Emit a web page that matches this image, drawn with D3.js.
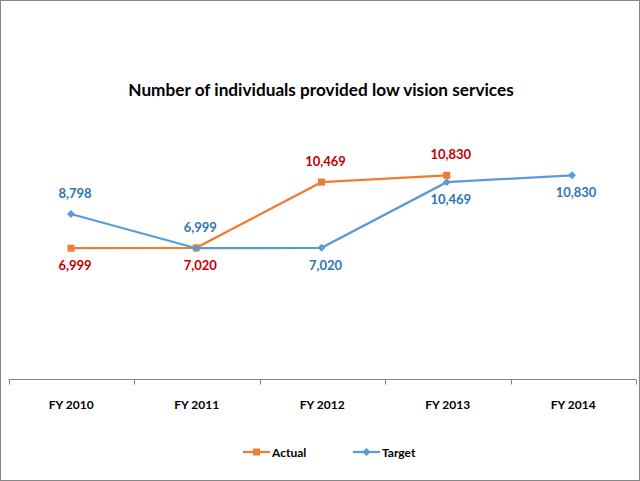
<!DOCTYPE html>
<html><head><meta charset="utf-8">
<script src="https://cdn.jsdelivr.net/npm/d3@7"></script>
<style>html,body{margin:0;padding:0;background:#fff;}svg{display:block;}</style>
</head><body>
<script>
const categories = ["FY 2010","FY 2011","FY 2012","FY 2013","FY 2014"];
const actual = [6999, 7020, 10469, 10830, null];
const target = [8798, 6999, 7020, 10469, 10830];
const actualLabelPos = ["below","below","above","above",null];
const targetLabelPos = ["above","above","below","below","below"];
const title = "Number of individuals provided low vision services";
const seriesNames = ["Actual","Target"];

const W = 640, H = 481;
const font = "Lato, 'Open Sans', sans-serif";
const svg = d3.select("body").append("svg").attr("width", W).attr("height", H);
svg.append("rect").attr("x",0.5).attr("y",0.5).attr("width",W-1).attr("height",H-1)
  .attr("fill","#fff").attr("stroke","#868686").attr("stroke-width",1);

svg.append("text").attr("x",321).attr("y",96).attr("text-anchor","middle")
  .attr("font-family",font).attr("font-weight","bold").attr("font-size",17.2).attr("fill","#000").text(title);

const x = d3.scalePoint().domain(categories).range([71, 572]);
const xb = d3.scaleBand().domain(categories).range([8.5, 636]);
const y = d3.scaleLinear().domain([0, 12000]).range([381.5, 153]);

// axis
const ax = svg.append("g").attr("transform","translate(0,379.5)");
ax.append("line").attr("x1",8.5).attr("x2",636).attr("stroke","#868686").attr("stroke-width",1);
const bounds = categories.map(c => xb(c)).concat([xb.range()[1]]);
ax.selectAll("line.tick").data(bounds).enter().append("line").attr("class","tick")
  .attr("x1",d=>Math.round(d)+0.5).attr("x2",d=>Math.round(d)+0.5).attr("y1",0).attr("y2",5)
  .attr("stroke","#868686");
ax.selectAll("text").data(categories).enter().append("text")
  .attr("x",d=>xb(d)+xb.bandwidth()/2).attr("y",29).attr("text-anchor","middle")
  .attr("font-family",font).attr("font-weight","bold").attr("font-size",12).attr("fill","#000").text(d=>d);

const line = d3.line().defined(d=>d.v!=null).x(d=>x(d.c)).y(d=>y(d.v));
const A = categories.map((c,i)=>({c, v: actual[i], p: actualLabelPos[i]}));
const T = categories.map((c,i)=>({c, v: target[i], p: targetLabelPos[i]}));
const cA = "#ED7D31", cT = "#5B9BD5";

svg.append("path").datum(A).attr("d",line).attr("fill","none").attr("stroke",cA).attr("stroke-width",2.25);
svg.append("path").datum(T).attr("d",line).attr("fill","none").attr("stroke",cT).attr("stroke-width",2.25);

svg.selectAll("rect.ma").data(A.filter(d=>d.v!=null)).enter().append("rect").attr("class","ma")
  .attr("x",d=>x(d.c)-3.5).attr("y",d=>y(d.v)-3.5).attr("width",7).attr("height",7).attr("fill",cA);
const diamond = d3.symbol().type(d3.symbolDiamond2).size(40);
svg.selectAll("path.mt").data(T).enter().append("path").attr("class","mt")
  .attr("d",diamond).attr("transform",d=>`translate(${x(d.c)},${y(d.v)})`).attr("fill",cT);

function labels(data, color) {
  svg.selectAll(null).data(data.filter(d=>d.v!=null)).enter().append("text")
    .attr("x",d=>x(d.c)+4).attr("y",d=>y(d.v) + (d.p==="above" ? -16 : 22))
    .attr("text-anchor","middle").attr("font-family",font).attr("font-weight","bold")
    .attr("font-size",13).attr("fill",color).text(d=>d3.format(",")(d.v));
}
labels(A, "#C00000");
labels(T, "#2E75B6");

// legend
const lg = svg.append("g");
const items = [{n:seriesNames[0], c:cA, x0:243, t:"sq"},{n:seriesNames[1], c:cT, x0:353, t:"di"}];
items.forEach(it=>{
  lg.append("line").attr("x1",it.x0).attr("x2",it.x0+27).attr("y1",452).attr("y2",452).attr("stroke",it.c).attr("stroke-width",2.25);
  if(it.t==="sq") lg.append("rect").attr("x",it.x0+13.5-3.5).attr("y",448.5).attr("width",7).attr("height",7).attr("fill",it.c);
  else lg.append("path").attr("d",diamond).attr("transform",`translate(${it.x0+13.5},452)`).attr("fill",it.c);
  lg.append("text").attr("x",it.x0+29).attr("y",456.5).attr("font-family",font).attr("font-weight","bold")
    .attr("font-size",12).attr("fill","#000").text(it.n);
});
</script>
</body></html>
